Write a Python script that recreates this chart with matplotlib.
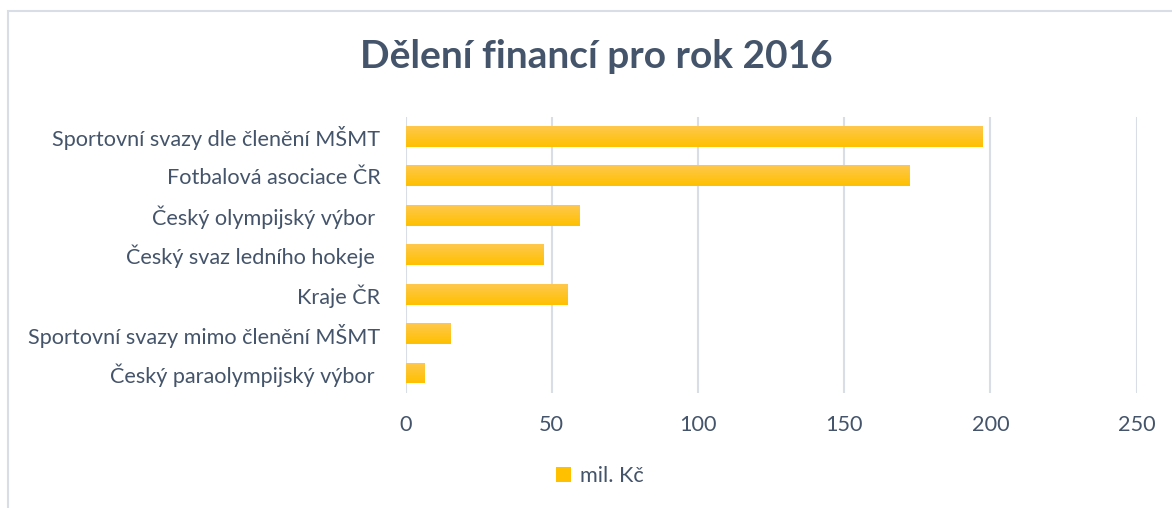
import numpy as np
import matplotlib
matplotlib.use('Agg')
import matplotlib.pyplot as plt
from matplotlib.patches import Rectangle, Patch
from matplotlib.colors import LinearSegmentedColormap

# Data (mil. Kč)
categories = [
    'Sportovní svazy dle členění MŠMT',
    'Fotbalová asociace ČR',
    'Český olympijský výbor ',
    'Český svaz ledního hokeje ',
    'Kraje ČR',
    'Sportovní svazy mimo členění MŠMT',
    'Český paraolympijský výbor ',
]
values = [197.1, 172.1, 59.3, 47.0, 55.2, 15.2, 6.3]
xticks = [0, 50, 100, 150, 200, 250]

text_color = '#44546A'
grid_color = '#D9DEE6'
plt.rcParams['font.family'] = ['Lato', 'DejaVu Sans']

fig = plt.figure(figsize=(11.72, 5.08), dpi=100)
fig.patch.set_facecolor('white')

# frame of the chart area (cut by the image edge)
fig.patches.append(Rectangle((8 / 1172, -0.1), 1.2, 1 - 11 / 508 + 0.1,
                             transform=fig.transFigure, fill=False,
                             edgecolor=grid_color, linewidth=1.5))

ax = fig.add_axes([405.5 / 1172, 1 - 392.7 / 508, (1136.7 - 405.5) / 1172, (392.7 - 116.7) / 508])

y = np.arange(len(categories))
bar_h = 0.53
bars = ax.barh(y, values, height=bar_h, color='#FFC000', zorder=2)

# vertical gradient like the original bars (lighter on top)
cmap = LinearSegmentedColormap.from_list('gold', ['#FEC84E', '#FFC000'])
grad = np.linspace(0, 1, 64).reshape(-1, 1)
for b in bars:
    x0, y0, w, h = b.get_x(), b.get_y(), b.get_width(), b.get_height()
    im = ax.imshow(grad, cmap=cmap, aspect='auto', extent=(x0, x0 + w, y0 + h, y0),
                   origin='upper', zorder=3)
    im.set_clip_path(b)

ax.set_ylim(len(categories) - 0.5, -0.5)
ax.set_xlim(0, 250)
ax.set_xticks(xticks)
ax.set_yticks(y)
ax.set_yticklabels(categories)
ax.grid(axis='x', color=grid_color, linewidth=1.5, zorder=0)
ax.set_axisbelow(True)
for s in ax.spines.values():
    s.set_visible(False)
ax.tick_params(axis='y', length=0, pad=18, labelsize=15.6, labelcolor=text_color)
ax.tick_params(axis='x', length=0, pad=16, labelsize=15.6, labelcolor=text_color)

fig.text(596 / 1172, 1 - 57 / 508, 'Dělení financí pro rok 2016', ha='center', va='center',
         fontsize=28, fontweight='bold', color=text_color)

fig.legend(handles=[Patch(facecolor='#FFC000', edgecolor='none', label='mil. Kč')],
           loc='center', bbox_to_anchor=(600 / 1172, 1 - 476 / 508), frameon=False,
           fontsize=15.6, labelcolor=text_color, handlelength=0.7, handleheight=0.7,
           handletextpad=0.4)

fig.savefig('out.png', dpi=100)
